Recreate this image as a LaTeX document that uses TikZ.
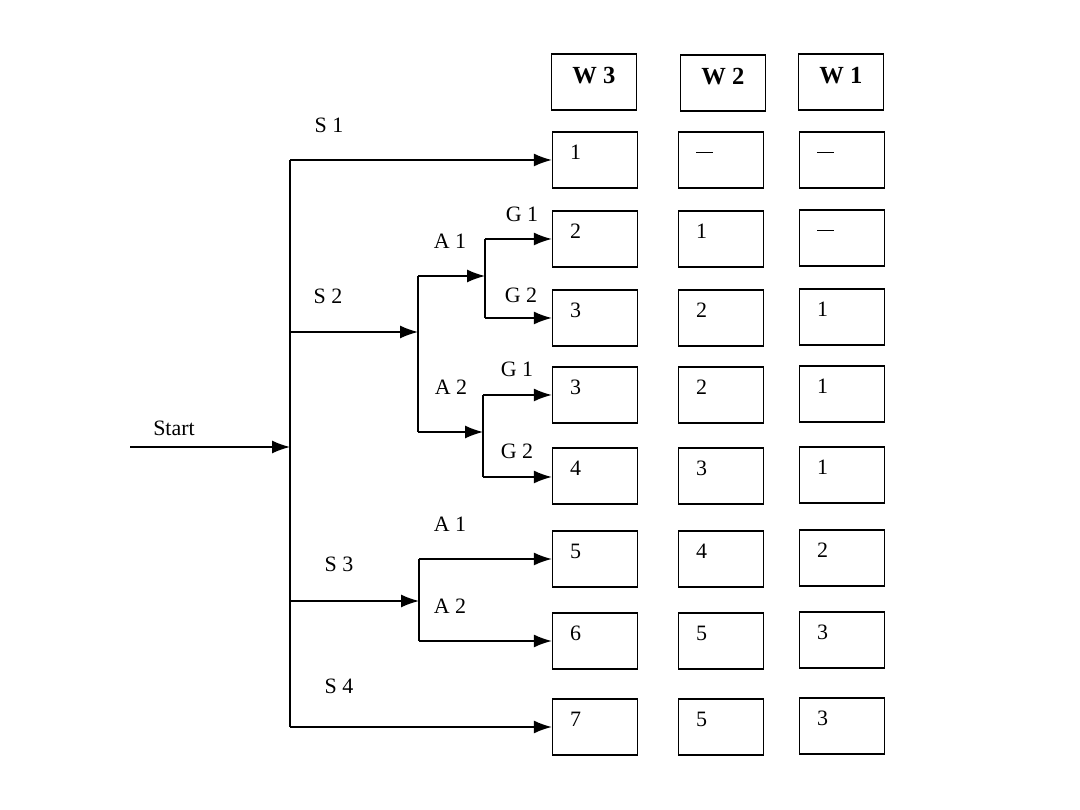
\documentclass[tikz,border=0pt]{standalone}
\usepackage{fontspec}
\setmainfont{Liberation Serif}
\usetikzlibrary{arrows.meta}

\newcommand{\nil}{\rule[0.13cm]{0.34cm}{0.6pt}}

\begin{document}
\begin{tikzpicture}[x=0.02cm,y=-0.02cm,line cap=butt,line join=miter,
  every node/.style={font=\fontsize{12.5}{14}\selectfont},
  cell/.style={draw,line width=0.8pt,minimum width=1.7cm,minimum height=1.12cm,
    inner xsep=0.35cm,text width=1cm,align=left,text height=0.25cm,text depth=0.28cm},
  head/.style={draw,line width=0.8pt,minimum width=1.7cm,minimum height=1.12cm,
    font=\fontsize{14}{16}\selectfont\bfseries,text height=0.27cm,text depth=0.2cm},
  wire/.style={line width=0.8pt},
  arr/.style={wire,-{Latex[length=0.36cm,width=0.26cm]}}]

\useasboundingbox (0,0) rectangle (1080,810);

% 表头
\node[head] (w3) at (594,82) {W 3};
\node[head] (w2) at (723,83) {W 2};
\node[head] (w1) at (841,82) {W 1};

% 各行方框
\node[cell] (r1c1) at (595,160) {1};
\node[cell] (r1c2) at (721,160) {\nil};
\node[cell] (r1c3) at (842,160) {\nil};

\node[cell] (r2c1) at (595,239) {2};
\node[cell] (r2c2) at (721,239) {1};
\node[cell] (r2c3) at (842,238) {\nil};

\node[cell] (r3c1) at (595,318) {3};
\node[cell] (r3c2) at (721,318) {2};
\node[cell] (r3c3) at (842,317) {1};

\node[cell] (r4c1) at (595,395) {3};
\node[cell] (r4c2) at (721,395) {2};
\node[cell] (r4c3) at (842,394) {1};

\node[cell] (r5c1) at (595,476) {4};
\node[cell] (r5c2) at (721,476) {3};
\node[cell] (r5c3) at (842,475) {1};

\node[cell] (r6c1) at (595,559) {5};
\node[cell] (r6c2) at (721,559) {4};
\node[cell] (r6c3) at (842,558) {2};

\node[cell] (r7c1) at (595,641) {6};
\node[cell] (r7c2) at (721,641) {5};
\node[cell] (r7c3) at (842,640) {3};

\node[cell] (r8c1) at (595,727) {7};
\node[cell] (r8c2) at (721,727) {5};
\node[cell] (r8c3) at (842,726) {3};

% 分支点
\coordinate (in) at (130,447);
\coordinate (st) at (290,447);
\coordinate (m1) at (290,160);
\coordinate (m2) at (290,332);
\coordinate (m3) at (290,601);
\coordinate (m4) at (290,727);

\coordinate (s2) at (418,332);
\coordinate (s2a1) at (418,276);
\coordinate (s2a2) at (418,432);
\coordinate (a1) at (485,276);
\coordinate (a1g1) at (485,239);
\coordinate (a1g2) at (485,318);
\coordinate (a2) at (483,432);
\coordinate (a2g1) at (483,395);
\coordinate (a2g2) at (483,477);

\coordinate (s3) at (419,601);
\coordinate (s3a1) at (419,559);
\coordinate (s3a2) at (419,641);

% 主干
\draw[arr] (in) -- (st);
\draw[wire] (m1) -- (m4);

% S1
\draw[arr] (m1) -- (m1 -| r1c1.west);

% S2
\draw[arr] (m2) -- (s2);
\draw[wire] (s2a1) -- (s2a2);
\draw[arr] (s2a1) -- (a1);
\draw[wire] (a1g1) -- (a1g2);
\draw[arr] (a1g1) -- (a1g1 -| r2c1.west);
\draw[arr] (a1g2) -- (a1g2 -| r3c1.west);
\draw[arr] (s2a2) -- (a2);
\draw[wire] (a2g1) -- (a2g2);
\draw[arr] (a2g1) -- (a2g1 -| r4c1.west);
\draw[arr] (a2g2) -- (a2g2 -| r5c1.west);

% S3
\draw[arr] (m3) -- (s3);
\draw[wire] (s3a1) -- (s3a2);
\draw[arr] (s3a1) -- (s3a1 -| r6c1.west);
\draw[arr] (s3a2) -- (s3a2 -| r7c1.west);

% S4
\draw[arr] (m4) -- (m4 -| r8c1.west);

% 标注
\node (lstart) at (174,428) {Start};
\node (ls1) at (329,125) {S 1};
\node (ls2) at (328,296) {S 2};
\node (ls3) at (339,564) {S 3};
\node (ls4) at (339,686) {S 4};
\node (la1) at (450,241) {A 1};
\node (la2) at (451,387) {A 2};
\node (lg1) at (522,214) {G 1};
\node (lg2) at (521,295) {G 2};
\node (lg1b) at (517,369) {G 1};
\node (lg2b) at (517,451) {G 2};
\node (la1b) at (450,524) {A 1};
\node (la2b) at (450,606) {A 2};

\end{tikzpicture}
\end{document}
